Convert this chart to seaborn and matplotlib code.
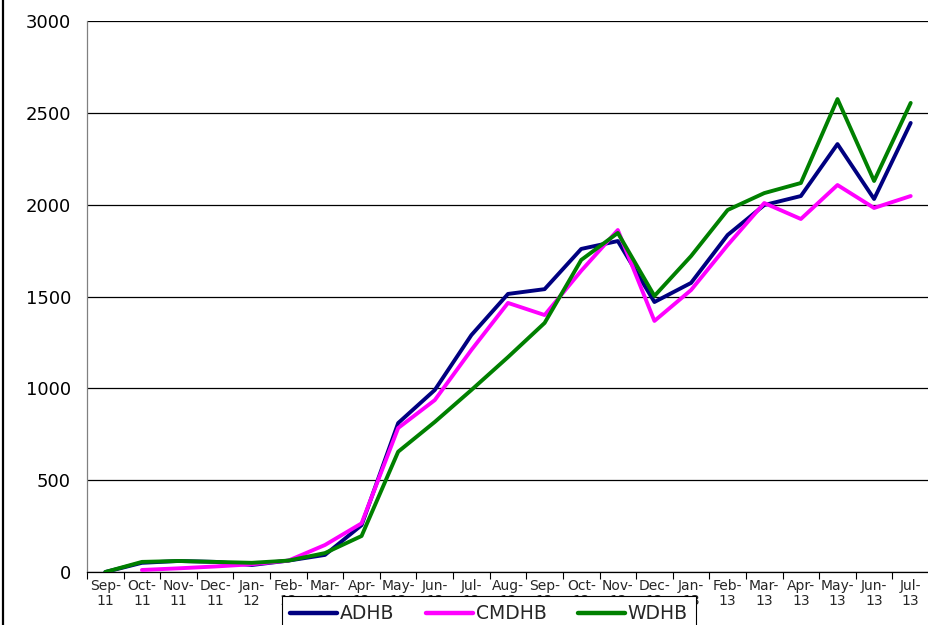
import numpy as np
import pandas as pd
import matplotlib
matplotlib.use("Agg")
import matplotlib.pyplot as plt
import seaborn as sns
from matplotlib.lines import Line2D

# monthly figures per DHB, Sep 2011 - Jul 2013
months = ["Sep-\n11", "Oct-\n11", "Nov-\n11", "Dec-\n11", "Jan-\n12", "Feb-\n12",
          "Mar-\n12", "Apr-\n12", "May-\n12", "Jun-\n12", "Jul-\n12", "Aug-\n12",
          "Sep-\n12", "Oct-\n12", "Nov-\n12", "Dec-\n12", "Jan-\n13", "Feb-\n13",
          "Mar-\n13", "Apr-\n13", "May-\n13", "Jun-\n13", "Jul-\n13"]
adhb = [0, 50, 60, 55, 38, 62, 93, 255, 811, 991, 1290, 1514, 1540, 1759, 1802,
        1470, 1574, 1835, 1998, 2047, 2330, 2031, 2445]
cmdhb = [np.nan, 11, 20, 30, 42, 62, 147, 265, 784, 936, 1209, 1465, 1399, 1640,
         1862, 1367, 1535, 1780, 2009, 1922, 2107, 1982, 2047]
wdhb = [0, 55, 60, 55, 50, 62, 103, 196, 655, 817, 991, 1170, 1356, 1699, 1846,
        1503, 1720, 1971, 2063, 2118, 2575, 2129, 2554]
series = ["ADHB", "CMDHB", "WDHB"]
colors = ["#000080", "#FF00FF", "#008000"]

rows = []
for name, vals in zip(series, [adhb, cmdhb, wdhb]):
    for i, v in enumerate(vals):
        if not np.isnan(v):
            rows.append({"month": i, "value": v, "DHB": name})
df = pd.DataFrame(rows)

sns.set_style("white")
plt.rcParams["font.family"] = ["DejaVu Sans"]

fig = plt.figure(figsize=(9.29, 6.25), dpi=100)
ax = fig.add_axes([87 / 929, 1 - 572 / 625, 1 - 87 / 929, (572 - 21) / 625])

sns.lineplot(data=df, x="month", y="value", hue="DHB", hue_order=series,
             palette=dict(zip(series, colors)), linewidth=2.8, ax=ax,
             legend=False, zorder=3)

ax.set_xlim(-0.5, len(months) - 0.5)
ax.set_ylim(0, 3000)
ax.set_yticks(range(0, 3001, 500))
ax.tick_params(axis="y", labelsize=13, length=6.5, width=0.8, pad=5,
               color="black", labelcolor="black")
ax.yaxis.grid(True, color="black", linewidth=0.9)
ax.set_axisbelow(True)

ax.set_xticks(range(len(months)))
ax.set_xticklabels(months, fontsize=10, linespacing=1.1)
ax.set_xticks(np.arange(-0.5, len(months), 1), minor=True)
ax.tick_params(axis="x", which="major", length=0, pad=5)
ax.tick_params(axis="x", which="minor", length=5, width=0.8, color="black",
               bottom=True)
ax.set_xlabel("")
ax.set_ylabel("")

for s in ["top", "right"]:
    ax.spines[s].set_visible(False)
ax.spines["left"].set_color("#808080")
ax.spines["left"].set_linewidth(0.9)
ax.spines["bottom"].set_color("black")
ax.spines["bottom"].set_linewidth(0.9)

# legend box sits over the lower tick labels, as in the original
handles = [Line2D([0], [0], color=c, linewidth=3.2) for c in colors]
leg = fig.legend(handles, series, loc="upper left", mode="expand",
                 bbox_to_anchor=(282 / 929, 1 - 596 / 625 - 0.06,
                                 (696 - 282) / 929, 0.06),
                 ncol=3, fontsize=13.5, frameon=True, fancybox=False,
                 edgecolor="black", framealpha=1, handlelength=2.5,
                 handletextpad=0.15, columnspacing=1.2, borderpad=0.45,
                 borderaxespad=0)
leg.get_frame().set_linewidth(0.8)

# outer chart border on the left edge
fig.add_artist(Line2D([0.003, 0.003], [0, 1], color="black", linewidth=1.6,
                      transform=fig.transFigure))

fig.savefig("out.png", dpi=100)
